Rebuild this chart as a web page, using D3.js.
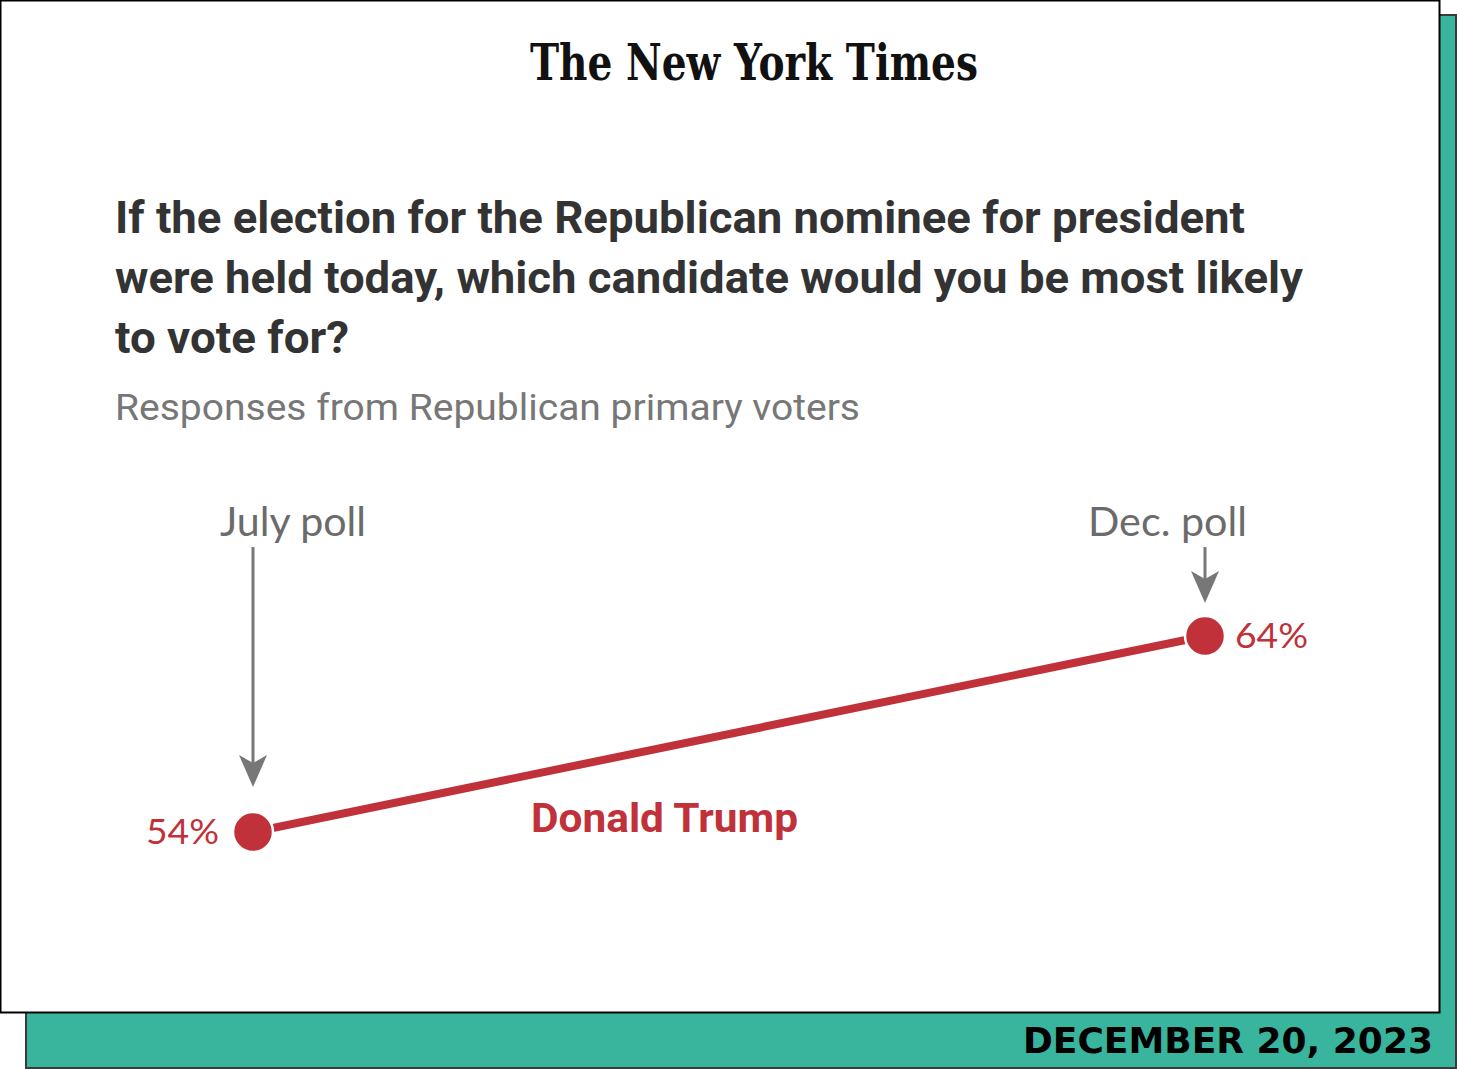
<!DOCTYPE html>
<html>
<head>
<meta charset="utf-8">
<script src="https://cdn.jsdelivr.net/npm/d3@7"></script>
<style>
  html, body { margin: 0; padding: 0; background: #ffffff; }
  svg { display: block; }
</style>
</head>
<body>
<svg id="chart" width="1457" height="1069"></svg>
<script>
// ---- data ----
const polls = ["July poll", "Dec. poll"];
const trumpValues = [54, 64];
const candidate = "Donald Trump";
const titleLines = [
  "If the election for the Republican nominee for president",
  "were held today, which candidate would you be most likely",
  "to vote for?"
];
const subtitle = "Responses from Republican primary voters";
const dateLabel = "DECEMBER 20, 2023";
const logoText = "The New York Times";

// ---- layout ----
const svg = d3.select("#chart");
const red = "#c0313a";
const gray = "#777777";

// frame: teal shadow + white card
svg.append("rect").attr("x", 26).attr("y", 15).attr("width", 1430).attr("height", 1053)
  .attr("fill", "#38b59c").attr("stroke", "#3a3a3a").attr("stroke-width", 2);
svg.append("rect").attr("x", 0.5).attr("y", 0.5).attr("width", 1439).attr("height", 1012)
  .attr("fill", "#ffffff").attr("stroke", "#000000").attr("stroke-width", 2);

// logo
svg.append("text").attr("x", 530).attr("y", 80)
  .attr("font-family", "DejaVu Serif").attr("font-weight", "bold").attr("font-size", 50)
  .attr("textLength", 448).attr("lengthAdjust", "spacingAndGlyphs")
  .attr("fill", "#111").text(logoText);

// title
const titleWidths = [1130, 1188, 234];
svg.append("g").selectAll("text").data(titleLines).join("text")
  .attr("x", 115).attr("y", (d, i) => 233 + i * 60)
  .attr("font-family", "Roboto").attr("font-weight", "bold").attr("font-size", 44)
  .attr("fill", "#333333")
  .attr("textLength", (d, i) => titleWidths[i]).attr("lengthAdjust", "spacingAndGlyphs")
  .text(d => d);

// subtitle
svg.append("text").attr("x", 115).attr("y", 420)
  .attr("font-family", "Roboto").attr("font-size", 37).attr("fill", "#777777")
  .attr("textLength", 745).attr("lengthAdjust", "spacingAndGlyphs")
  .text(subtitle);

// scales
const x = d3.scalePoint().domain(polls).range([253, 1205]);
const y = d3.scaleLinear().domain([50, 70]).range([910.4, 518.4]);

const pts = polls.map((p, i) => ({ poll: p, value: trumpValues[i] }));

// poll labels
const labelWidths = [146, 159];
svg.append("g").selectAll("text").data(pts).join("text")
  .attr("x", (d, i) => i === 0 ? x(d.poll) - 33 : x(d.poll) + 42)
  .attr("y", 536)
  .attr("text-anchor", (d, i) => i === 0 ? "start" : "end")
  .attr("font-family", "Lato").attr("font-size", 41).attr("fill", "#6b6b6b")
  .attr("textLength", (d, i) => labelWidths[i]).attr("lengthAdjust", "spacingAndGlyphs")
  .text(d => d.poll);

// arrows
const arrowGaps = [45, 33];
const arrows = svg.append("g");
pts.forEach((d, i) => {
  const cx = x(d.poll);
  const tip = y(d.value) - arrowGaps[i];
  arrows.append("line").attr("x1", cx).attr("x2", cx).attr("y1", 547).attr("y2", tip - 20)
    .attr("stroke", gray).attr("stroke-width", 3);
  arrows.append("path")
    .attr("d", `M${cx},${tip} L${cx - 14},${tip - 32} L${cx},${tip - 24} L${cx + 14},${tip - 32} Z`)
    .attr("fill", gray);
});

// line
svg.append("path").datum(pts)
  .attr("d", d3.line().x(d => x(d.poll)).y(d => y(d.value)))
  .attr("fill", "none").attr("stroke", red).attr("stroke-width", 8);

// dots
svg.append("g").selectAll("circle").data(pts).join("circle")
  .attr("cx", d => x(d.poll)).attr("cy", d => y(d.value)).attr("r", 20)
  .attr("fill", red).attr("stroke", "#ffffff").attr("stroke-width", 2.5);

// value labels
svg.append("g").selectAll("text").data(pts).join("text")
  .attr("x", (d, i) => i === 0 ? x(d.poll) - 34 : x(d.poll) + 30)
  .attr("y", d => y(d.value) + 12)
  .attr("text-anchor", (d, i) => i === 0 ? "end" : "start")
  .attr("font-family", "Lato").attr("font-size", 35).attr("fill", red)
  .attr("textLength", 73).attr("lengthAdjust", "spacingAndGlyphs")
  .text(d => d.value + "%");

// candidate label
svg.append("text").attr("x", 531).attr("y", 832)
  .attr("font-family", "Roboto").attr("font-weight", "bold").attr("font-size", 41)
  .attr("fill", red).attr("textLength", 267).attr("lengthAdjust", "spacingAndGlyphs")
  .text(candidate);

// date
svg.append("text").attr("x", 1023).attr("y", 1053)
  .attr("font-family", "DejaVu Sans").attr("font-weight", "bold").attr("font-size", 35)
  .attr("fill", "#000").attr("textLength", 410).attr("lengthAdjust", "spacingAndGlyphs")
  .text(dateLabel);
</script>
</body>
</html>
